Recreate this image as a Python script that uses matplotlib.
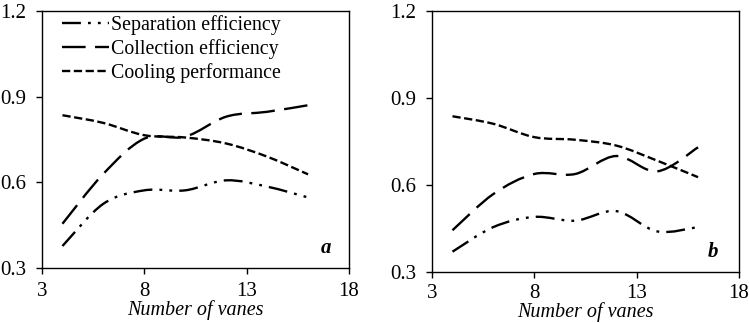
import numpy as np
import matplotlib
matplotlib.use("Agg")
import matplotlib.pyplot as plt
import matplotlib.transforms as mtransforms
from matplotlib.path import Path
from matplotlib.patches import PathPatch
from matplotlib.lines import Line2D

plt.rcParams['font.family'] = ['Liberation Serif', 'DejaVu Serif']

vanes = [4, 6, 8, 10, 12, 14, 16]
sep_a = [0.377, 0.525, 0.572, 0.572, 0.607, 0.585, 0.547]
col_a = [0.455, 0.630, 0.753, 0.760, 0.830, 0.847, 0.870]
cool_a = [0.835, 0.808, 0.765, 0.757, 0.736, 0.690, 0.628]
sep_b = [0.370, 0.455, 0.490, 0.477, 0.510, 0.440, 0.455]
col_b = [0.444, 0.569, 0.638, 0.638, 0.700, 0.647, 0.730]
cool_b = [0.837, 0.811, 0.765, 0.756, 0.736, 0.684, 0.627]

labels = ["Separation efficiency", "Collection efficiency", "Cooling performance"]
x_ticks = [3, 8, 13, 18]
y_ticks = [0.3, 0.6, 0.9, 1.2]

styles = [(0, (8, 3, 1.2, 3, 1.2, 3)), (0, (10, 4)), (0, (3.5, 1.5))]
LW = 1.7


def smooth_path(x, y):
    # Catmull-Rom style Bezier path drawn through the data points (Excel-like smoothing)
    x = np.asarray(x, float); y = np.asarray(y, float)
    n = len(x)
    verts = [(x[0], y[0])]
    codes = [Path.MOVETO]
    for i in range(n - 1):
        p0 = (x[i - 1], y[i - 1]) if i > 0 else (x[i], y[i])
        p1 = (x[i], y[i]); p2 = (x[i + 1], y[i + 1])
        p3 = (x[i + 2], y[i + 2]) if i + 2 < n else (x[i + 1], y[i + 1])
        t = 1 / 6
        c1 = (p1[0] + (p2[0] - p0[0]) * t, p1[1] + (p2[1] - p0[1]) * t)
        c2 = (p2[0] - (p3[0] - p1[0]) * t, p2[1] - (p3[1] - p1[1]) * t)
        verts += [c1, c2, p2]
        codes += [Path.CURVE4] * 3
    return Path(verts, codes)


fig = plt.figure(figsize=(7.49, 3.23), dpi=100)
axa = fig.add_axes([42 / 749, 1 - 268 / 323, 307 / 749, 257 / 323])
axb = fig.add_axes([432 / 749, 1 - 272 / 323, 307 / 749, 261 / 323])

for ax, series, letter, lab_y, lx, xpad in [(axa, [sep_a, col_a, cool_a], 'a', 314.5, 0.941, 5.5),
                                            (axb, [sep_b, col_b, cool_b], 'b', 317, 0.932, 4.5)]:
    for ys, ls in zip(series, styles):
        patch = PathPatch(smooth_path(vanes, ys), facecolor='none', edgecolor='black',
                          lw=LW, linestyle=ls, capstyle='butt')
        ax.add_patch(patch)
    ax.set_xlim(3, 18)
    ax.set_ylim(0.3, 1.2)
    ax.set_xticks(x_ticks)
    ax.set_yticks(y_ticks)
    ax.set_yticklabels([f"{v:.1f}" for v in y_ticks])
    ax.tick_params(direction='out', length=4.3, width=1, labelsize=15, colors='black', pad=7)
    ax.tick_params(axis='x', pad=xpad)
    for s in ax.spines.values():
        s.set_linewidth(1.0)
        s.set_color('black')
    ax.set_xlabel("Number of vanes", fontstyle='italic', fontsize=14.5)
    ax.xaxis.set_label_coords(0.5, 1 - lab_y / 323,
                              transform=mtransforms.blended_transform_factory(ax.transAxes, fig.transFigure))
    ax.xaxis.label.set_va('baseline')
    ax.text(lx, 0.058, letter, transform=ax.transAxes, fontsize=15,
            fontweight='bold', fontstyle='italic', ha='right', va='baseline')

handles = [Line2D([0], [0], color='black', lw=LW, linestyle=ls) for ls in styles]
axa.legend(handles, labels, loc='upper left', bbox_to_anchor=(0.025, 1.03), frameon=False,
           fontsize=14.3, handlelength=2.4, handletextpad=0.1, labelspacing=0.2,
           borderaxespad=0.2)

fig.savefig("out.png", dpi=100)
